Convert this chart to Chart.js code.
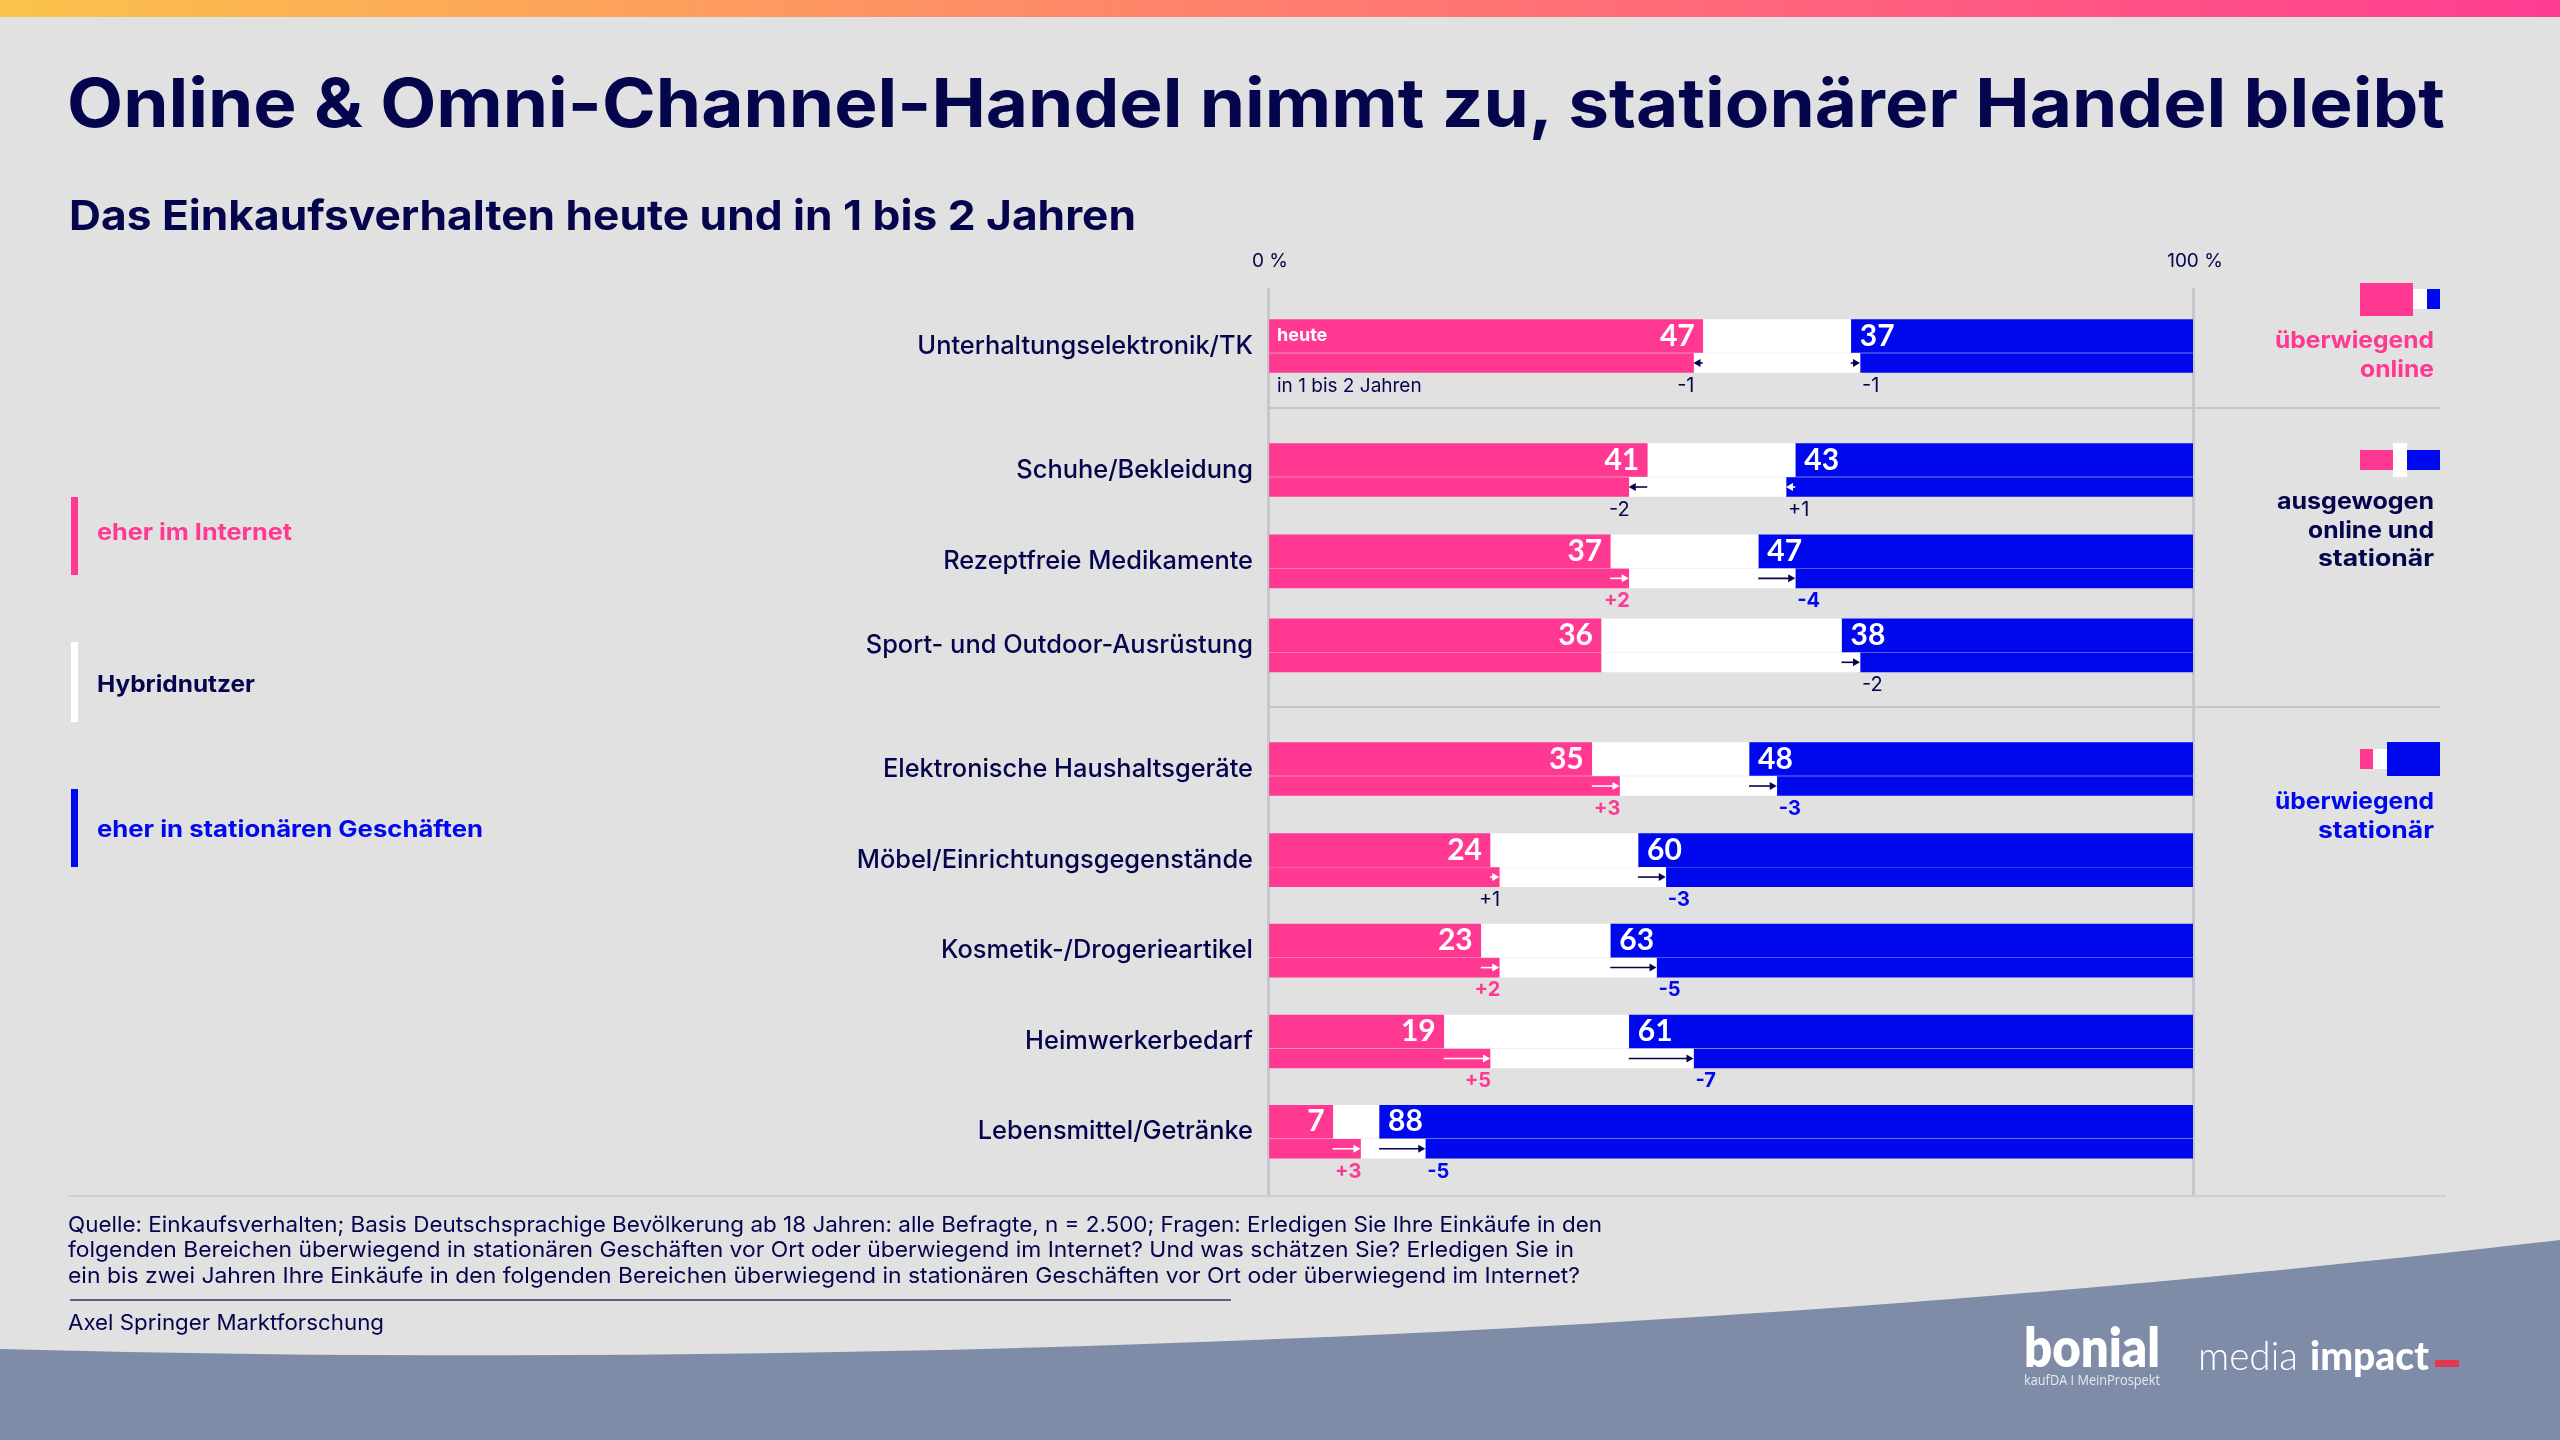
<!DOCTYPE html>
<html lang="de"><head><meta charset="utf-8">
<script src="https://cdn.jsdelivr.net/npm/chart.js@4"></script>
<style>
html,body{margin:0;padding:0;background:#e1e1e1;width:2560px;height:1440px;overflow:hidden}
#stage{position:absolute;left:0;top:0;width:2560px;height:1440px;overflow:hidden}
#top{position:absolute;left:0;top:0;width:2560px;height:17px;background:linear-gradient(90deg,#fbc24a 0%,#ff7e6e 50%,#ff3d92 100%)}
svg{position:absolute;left:0;top:0}
canvas{position:absolute;left:0;top:0}
.t{position:absolute;white-space:pre;height:100px;line-height:100px;transform-origin:left center}
.b{position:absolute}
</style></head><body>
<div id="stage">
<div id="top"></div>
<svg width="2560" height="1440">
<path d="M0 1349 C800 1370 1700 1340 2560 1240 L2560 1440 L0 1440 Z" fill="#7f8ca8"/>
<line x1="1268" y1="408" x2="2440" y2="408" stroke="#c3c3cb" stroke-width="2"/>
<line x1="1268" y1="707" x2="2440" y2="707" stroke="#c3c3cb" stroke-width="2"/>
<line x1="68" y1="1196" x2="2446" y2="1196" stroke="#cfcfd3" stroke-width="2"/>
<line x1="70" y1="1300" x2="1231" y2="1300" stroke="#2f3266" stroke-width="1.5"/>
</svg>
<canvas id="c" width="2560" height="1440"></canvas>
</div>
<script>
const categories=["Unterhaltungselektronik/TK","Schuhe/Bekleidung","Rezeptfreie Medikamente","Sport- und Outdoor-Ausrüstung","Elektronische Haushaltsgeräte","Möbel/Einrichtungsgegenstände","Kosmetik-/Drogerieartikel","Heimwerkerbedarf","Lebensmittel/Getränke"];
const onlineToday=[47,41,37,36,35,24,23,19,7];
const storeToday=[37,43,47,38,48,60,63,61,88];
const onlineDelta=[-1,-2,2,0,3,1,2,5,3];
const storeDelta=[-1,1,-4,-2,-3,-3,-5,-7,-5];
const onlineStrong=[0,0,1,0,1,0,1,1,1];
const storeStrong=[0,0,1,0,1,1,1,1,1];
const axisTicks=[0,100];
const rowSlots=[0,1.370,2.379,3.307,4.674,5.680,6.680,7.685,8.682];

const PINK="#ff3891",BLUE="#0008ee",NAVY="#05054d",WHITE="#ffffff";
const todayOff=-0.1105,futureOff=0.188,deltaOff=0.44;
const onlineFuture=onlineToday.map((v,i)=>v+onlineDelta[i]);
const storeFuture=storeToday.map((v,i)=>v+storeDelta[i]);
const span=(from,to,off)=>categories.map((_,i)=>({y:rowSlots[i]+off,x:[from(i),to(i)]}));
const ds=(label,data,color,th)=>({label,data,backgroundColor:color,barThickness:th,borderWidth:0});
const datasets=[
 ds("eher im Internet heute",span(()=>0,i=>onlineToday[i],todayOff),PINK,33),
 ds("Hybridnutzer heute",span(i=>onlineToday[i],i=>100-storeToday[i],todayOff),WHITE,33),
 ds("eher in stationären Geschäften heute",span(i=>100-storeToday[i],()=>100,todayOff),BLUE,33),
 ds("eher im Internet in 1 bis 2 Jahren",span(()=>0,i=>onlineFuture[i],futureOff),PINK,19),
 ds("Hybridnutzer in 1 bis 2 Jahren",span(i=>onlineFuture[i],i=>100-storeFuture[i],futureOff),WHITE,19),
 ds("eher in stationären Geschäften in 1 bis 2 Jahren",span(i=>100-storeFuture[i],()=>100,futureOff),BLUE,19)
];
const fmt=d=>(d>0?"+":"")+d;
const labelsPlugin={id:"labels",afterDatasetsDraw(chart){
 const c=chart.ctx,X=chart.scales.x,Y=chart.scales.y;
 const arrow=(from,to,y,col)=>{
  const a=X.getPixelForValue(from),b=X.getPixelForValue(to),dir=b>a?1:-1;
  c.strokeStyle=col;c.fillStyle=col;c.lineWidth=1.6;
  c.beginPath();c.moveTo(a,y);c.lineTo(b-dir*5,y);c.stroke();
  c.beginPath();c.moveTo(b,y);c.lineTo(b-dir*7,y-4);c.lineTo(b-dir*7,y+4);c.closePath();c.fill();
 };
 c.save();c.textBaseline="middle";
 categories.forEach((_,i)=>{
  const yT=Y.getPixelForValue(rowSlots[i]+todayOff),yF=Y.getPixelForValue(rowSlots[i]+futureOff),yD=Y.getPixelForValue(rowSlots[i]+deltaOff);
  c.font="700 30px Lato";c.fillStyle=WHITE;
  c.textAlign="right";c.fillText(onlineToday[i],X.getPixelForValue(onlineToday[i])-8,yT);
  c.textAlign="left";c.fillText(storeToday[i],X.getPixelForValue(100-storeToday[i])+9,yT);
  if(onlineDelta[i]!==0){
   arrow(onlineToday[i],onlineFuture[i],yF,onlineDelta[i]>0?WHITE:NAVY);
   c.textAlign="right";c.font=(onlineStrong[i]?"700 ":"400 ")+"20px Inter";c.fillStyle=onlineStrong[i]?PINK:NAVY;
   c.fillText(fmt(onlineDelta[i]),X.getPixelForValue(onlineFuture[i])+1,yD);
  }
  if(storeDelta[i]!==0){
   arrow(100-storeToday[i],100-storeFuture[i],yF,storeDelta[i]>0?WHITE:NAVY);
   c.textAlign="left";c.font=(storeStrong[i]?"700 ":"400 ")+"20px Inter";c.fillStyle=storeStrong[i]?BLUE:NAVY;
   c.fillText(fmt(storeDelta[i]),X.getPixelForValue(100-storeFuture[i])+2,yD);
  }
 });
 c.textAlign="left";
 c.font="700 18px Inter";c.fillStyle=WHITE;c.fillText("heute",X.getPixelForValue(0)+9,Y.getPixelForValue(rowSlots[0]+todayOff));
 c.font="400 19px Inter";c.fillStyle=NAVY;c.fillText("in 1 bis 2 Jahren",X.getPixelForValue(0)+9,Y.getPixelForValue(rowSlots[0]+deltaOff));
 c.restore();
}};
Chart.defaults.devicePixelRatio=1;
new Chart(document.getElementById("c"),{type:"bar",plugins:[labelsPlugin],
 data:{datasets},
 options:{indexAxis:"y",responsive:false,animation:false,
  datasets:{bar:{grouped:false}},
  layout:{padding:{left:0,right:367,top:0,bottom:244}},
  plugins:{legend:{display:false},tooltip:{enabled:false},title:{display:false}},
  scales:{
   x:{type:"linear",position:"top",min:0,max:100,
    afterFit:s=>{s.height=288},
    afterBuildTicks:s=>{s.ticks=axisTicks.map(v=>({value:v}))},
    grid:{display:true,drawTicks:false,color:"#c6c6cc",lineWidth:3},border:{display:false},
    ticks:{padding:15,labelOffset:2,color:NAVY,font:{family:"Inter",size:19,weight:"400"},callback:v=>v+" %",maxRotation:0}},
   y:{type:"linear",reverse:true,offset:false,min:-0.641,max:9.392,
    afterFit:s=>{s.width=1268},
    afterBuildTicks:s=>{s.ticks=rowSlots.map(v=>({value:v}))},
    grid:{display:false,drawTicks:false,offset:false},border:{display:false},
    ticks:{padding:15,autoSkip:false,color:NAVY,font:{family:"Inter",size:25.4,weight:"500"},callback:(v,i)=>categories[i]}}
  }}});

// Slide text: real text, fitted to the reference width
const stage=document.getElementById("stage");
function txt(t,x,y,size,weight,color,w,opt={}){
 const e=document.createElement("div");e.className="t";e.textContent=t;
 e.style.cssText=`left:${x}px;top:${y-50}px;font:${weight} ${size}px/100px ${opt.font||"Inter"};color:${color};`;
 stage.appendChild(e);
 if(w){const k=w/e.getBoundingClientRect().width;e.style.transform=`scaleX(${k})`;}
 return e;
}
function right(t,xr,y,size,weight,color,w){
 const e=txt(t,0,y,size,weight,color);
 const cur=e.getBoundingClientRect().width,k=w/cur;
 e.style.left=(xr-w)+"px";e.style.transform=`scaleX(${k})`;
}
function box(x1,y1,x2,y2,col){const e=document.createElement("div");e.className="b";e.style.cssText=`left:${x1}px;top:${y1}px;width:${x2-x1}px;height:${y2-y1}px;background:${col}`;stage.appendChild(e);}
txt("Online & Omni-Channel-Handel nimmt zu, stationärer Handel bleibt",67,103,67,700,NAVY,2378);
txt("Das Einkaufsverhalten heute und in 1 bis 2 Jahren",69,215,41,700,NAVY,1067);
box(71,497,78,575,PINK);box(71,642,78,722,WHITE);box(71,789,78,867,BLUE);
txt("eher im Internet",97,532,23,700,PINK,195);
txt("Hybridnutzer",97,684,23,700,NAVY,158);
txt("eher in stationären Geschäften",97,829,23,700,BLUE,386);
box(2360,283,2413,315.5,PINK);box(2413,288.5,2427,309,WHITE);box(2427,288.5,2440,309,BLUE);
box(2360,450,2393,470,PINK);box(2393,443,2407,477,WHITE);box(2407,450,2440,470,BLUE);
box(2360,748.5,2373,769,PINK);box(2373,748.5,2387,769,WHITE);box(2387,742,2440,775.5,BLUE);
right("überwiegend",2434,340,23,700,PINK,159);
right("online",2434,369,23,700,PINK,74);
right("ausgewogen",2434,501,23,700,NAVY,157);
right("online und",2434,530,23,700,NAVY,126);
right("stationär",2434,558,23,700,NAVY,116);
right("überwiegend",2434,801,23,700,BLUE,159);
right("stationär",2434,830,23,700,BLUE,116);
const src=["Quelle: Einkaufsverhalten; Basis Deutschsprachige Bevölkerung ab 18 Jahren: alle Befragte, n = 2.500; Fragen: Erledigen Sie Ihre Einkäufe in den",
"folgenden Bereichen überwiegend in stationären Geschäften vor Ort oder überwiegend im Internet? Und was schätzen Sie? Erledigen Sie in",
"ein bis zwei Jahren Ihre Einkäufe in den folgenden Bereichen überwiegend in stationären Geschäften vor Ort oder überwiegend im Internet?"];
txt(src[0],68,1224,22,400,NAVY,1534);
txt(src[1],68,1249,22,400,NAVY,1506);
txt(src[2],68,1275,22,400,NAVY,1512);
txt("Axel Springer Marktforschung",68,1322,22,400,NAVY,316);
txt("bonial",2024,1347,54,800,WHITE,136,{font:"Lato"});
txt("kaufDA I MeinProspekt",2024,1380,14,400,"#e6e9f0",136,{font:"'Open Sans'"});
txt("media",2198,1355,40,300,WHITE,100,{font:"Lato"});
txt("impact",2310,1355,40,900,WHITE,119,{font:"Lato"});
box(2435,1360,2459,1367,"#e0394f");
</script>
</body></html>
